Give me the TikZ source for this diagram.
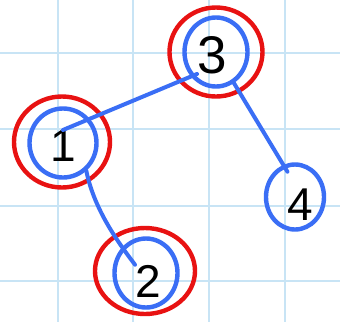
\documentclass[tikz,border=0pt]{standalone}
\usepackage{fontspec}
\setmainfont{Liberation Sans}
\usetikzlibrary{shapes.geometric}
\definecolor{gridblue}{RGB}{200,228,245}
\definecolor{penblue}{RGB}{58,110,245}
\definecolor{penred}{RGB}{232,18,18}
\begin{document}
\begin{tikzpicture}[x=1pt,y=-1pt,
  gridline/.style={draw=gridblue,line width=2pt},
  bluering/.style={ellipse,draw=penblue,line width=4.4pt,inner sep=0pt},
  redring/.style={ellipse,draw=penred,line width=4.4pt,inner sep=0pt},
  digit/.style={inner sep=0pt,font=\fontsize{46}{46}\selectfont},
  bigdigit/.style={inner sep=0pt,font=\fontsize{53}{53}\selectfont},
  edge/.style={draw=penblue,line width=4pt,line cap=round}]
\fill[white] (0,0) rectangle (340,322);
\path[use as bounding box] (0,0) rectangle (340,322);
\foreach \gx in {58,133,209,285} \draw[gridline] (\gx,0) -- (\gx,322);
\foreach \gy in {53,129,206,281} \draw[gridline] (0,\gy) -- (340,\gy);
% rings
\node[redring, minimum width=96pt, minimum height=91pt] (n1r) at (62,142) {};
\node[bluering, minimum width=67pt, minimum height=69pt] (n1b) at (63,143) {};
\node[redring, minimum width=93pt, minimum height=89pt] (n3r) at (216,52) {};
\node[bluering, minimum width=63pt, minimum height=69pt] (n3b) at (216,52) {};
\node[redring, minimum width=100pt, minimum height=86pt] (n2r) at (145,271) {};
\node[bluering, minimum width=63pt, minimum height=69pt] (n2b) at (146,273) {};
\node[bluering, minimum width=58pt, minimum height=65pt] (n4b) at (295,197) {};
% digits
\node[digit] (t1) at (63,146) {1};
\node[bigdigit] (t3) at (212,55) {3};
\node[digit] (t2) at (148,281) {2};
\node[digit] (t4) at (300,205) {4};
% connectors
\draw[edge] (t1.north) -- (t3.south west);
\draw[edge, shorten >=-8pt] (n3b.-60) -- (n4b.110);
\draw[edge] (n1b.-50) .. controls +(8,40) and +(-15,-20) .. (t2.north west);
\end{tikzpicture}
\end{document}
